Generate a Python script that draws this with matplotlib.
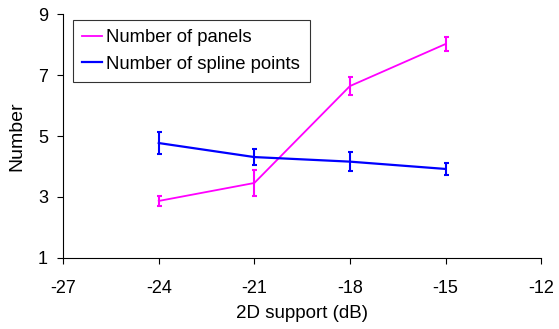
import numpy as np
from matplotlib import pyplot as plt
from matplotlib.lines import Line2D

plt.rcParams['font.family'] = ['Liberation Sans', 'DejaVu Sans']
plt.rcParams['axes.unicode_minus'] = False

support_db = [-24, -21, -18, -15]
panels = [2.87, 3.46, 6.64, 8.02]
panels_err = [0.16, 0.43, 0.30, 0.24]
spline_pts = [4.77, 4.31, 4.16, 3.92]
spline_err = [0.37, 0.26, 0.31, 0.20]

pink = '#ff00ff'
blue = '#0000ff'

fig = plt.figure(figsize=(5.59, 3.29), dpi=100)
ax = fig.add_axes([0.113, 0.216, 0.855, 0.741])

ax.errorbar(support_db, panels, yerr=panels_err, color=pink, lw=1.3,
            capsize=1.8, capthick=1.5, elinewidth=1.5)
ax.errorbar(support_db, spline_pts, yerr=spline_err, color=blue, lw=1.6,
            capsize=1.8, capthick=1.5, elinewidth=1.5)

ax.set_xlim(-27, -12)
ax.set_ylim(1, 9)
ax.set_xticks([-27, -24, -21, -18, -15, -12])
ax.set_yticks([1, 3, 5, 7, 9])
ax.set_xlabel('2D support (dB)', fontsize=13.5, labelpad=6)
ax.set_ylabel('Number', fontsize=14, labelpad=9)
ax.tick_params(labelsize=13, direction='out', length=4, width=0.8)
ax.tick_params(axis='x', pad=12)
ax.tick_params(axis='y', pad=7)
ax.spines.right.set_visible(False)
ax.spines.top.set_visible(False)

# plain line handles in the legend, no error bar glyphs
handles = [Line2D([], [], color=pink, lw=1.3), Line2D([], [], color=blue, lw=1.6)]
leg = ax.legend(handles, ['Number of panels', 'Number of spline points'],
                loc='upper left', bbox_to_anchor=(0.021, 0.975), fontsize=13.3,
                frameon=True, fancybox=False, edgecolor='black', handlelength=1.05,
                handletextpad=0.25, borderpad=0.5, labelspacing=0.5, borderaxespad=0)
leg.get_frame().set_linewidth(0.8)

plt.savefig('out.png', dpi=100)
